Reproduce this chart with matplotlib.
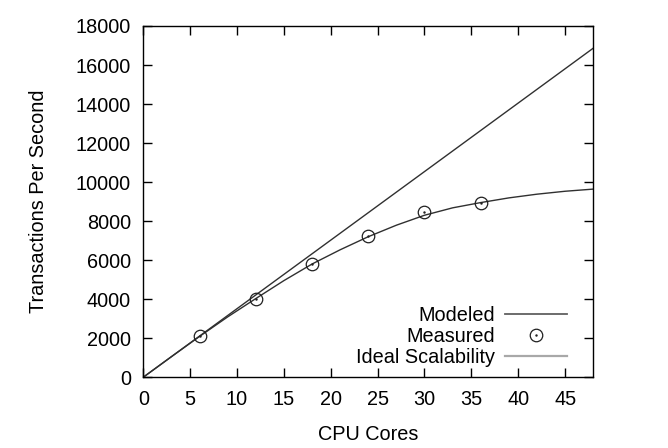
import matplotlib
matplotlib.use("Agg")
import matplotlib.pyplot as plt
from matplotlib.lines import Line2D

plt.rcParams['font.family'] = ['Liberation Sans', 'DejaVu Sans']

# Data
measured_cores = [6, 12, 18, 24, 30, 36]
measured_tps = [2130, 4000, 5820, 7240, 8450, 8930]

model_cores = [0, 3, 6, 9, 12, 15, 18, 21, 24, 27, 30, 33, 36, 39, 42, 45, 48]
model_tps = [0, 1051, 2090, 3090, 4030, 4950, 5800, 6530, 7200, 7790, 8300,
             8680, 8950, 9190, 9380, 9530, 9640]

ideal_cores = [0, 48]
ideal_tps = [0, 16860]

xticks = [0, 5, 10, 15, 20, 25, 30, 35, 40, 45]
yticks = [0, 2000, 4000, 6000, 8000, 10000, 12000, 14000, 16000, 18000]

fig = plt.figure(figsize=(6.68, 4.48), dpi=100)
ax = fig.add_axes([0.2145, 0.158, 0.6735, 0.784])

ax.plot(model_cores, model_tps, color='#303030', lw=1.0)
ax.plot(ideal_cores, ideal_tps, color='#303030', lw=1.0)
ax.plot(measured_cores, measured_tps, linestyle='none', marker='o', ms=9,
        mfc='none', mec='#202020', mew=0.9)
ax.plot(measured_cores, measured_tps, linestyle='none', marker='.', ms=1.5,
        color='#202020')

ax.set_xlim(0, 48)
ax.set_ylim(0, 18000)
ax.set_xticks(xticks)
ax.set_yticks(yticks)
ax.tick_params(direction='in', length=6.5, width=1, top=True, right=True,
               labelsize=14.3, pad=9, colors='black')
for s in ax.spines.values():
    s.set_linewidth(1.0)

ax.set_xlabel('CPU Cores', fontsize=14.3, labelpad=12)
ax.set_ylabel('Transactions Per Second', fontsize=14.3, labelpad=20)

h_model = Line2D([], [], color='#606060', lw=1.3)
h_meas = (Line2D([], [], linestyle='none', marker='o', ms=9, mfc='none',
                 mec='#202020', mew=0.9),
          Line2D([], [], linestyle='none', marker='.', ms=1.5, color='#202020'))
h_ideal = Line2D([], [], color='#a8a8a8', lw=1.6)
leg = ax.legend([h_model, h_meas, h_ideal], ['Modeled', 'Measured', 'Ideal Scalability'],
                loc='lower right', bbox_to_anchor=(0.968, -0.006), frameon=False,
                fontsize=14.3, markerfirst=False, handlelength=3.1, handletextpad=0.5,
                labelspacing=0.12, borderaxespad=0.2)
for t in leg.get_texts():
    t.set_ha('right')

fig.savefig('out.png', dpi=100)
